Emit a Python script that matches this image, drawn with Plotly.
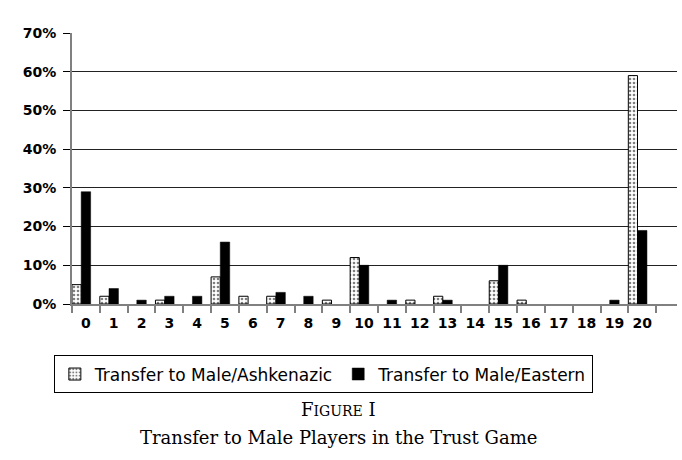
import plotly.graph_objects as go

categories = [str(i) for i in range(21)]
ashkenazic = [5, 2, 0, 1, 0, 7, 2, 2, 0, 1, 12, 0, 1, 2, 0, 6, 1, 0, 0, 0, 59]
eastern = [29, 4, 1, 2, 2, 16, 0, 3, 2, 0, 10, 1, 0, 1, 0, 10, 0, 0, 0, 1, 19]
y_ticks = [0, 10, 20, 30, 40, 50, 60, 70]
y_labels = [f"{v}%" for v in y_ticks]

def hide_zero(vals):
    return [v if v else None for v in vals]

fig = go.Figure()
fig.add_trace(go.Bar(
    x=categories, y=hide_zero(ashkenazic), name="Transfer to Male/Ashkenazic",
    width=0.33, offset=-0.5,
    marker=dict(color="white", line=dict(color="black", width=1),
                pattern=dict(shape=".", fgcolor="black", bgcolor="white", size=4, solidity=0.35)),
))
fig.add_trace(go.Bar(
    x=categories, y=hide_zero(eastern), name="Transfer to Male/Eastern",
    width=0.34, offset=-0.17,
    marker=dict(color="black", line=dict(color="black", width=0.5)),
))

fig.update_layout(
    width=682, height=460,
    margin=dict(l=72, r=5, t=33, b=156),
    plot_bgcolor="white", paper_bgcolor="white",
    barmode="group",
    showlegend=True,
    legend=dict(orientation="h", x=-0.03, y=-0.19, xanchor="left", yanchor="top",
                bordercolor="black", borderwidth=1,
                font=dict(family="DejaVu Sans", size=17, color="black"),
                itemwidth=30, tracegroupgap=0),
    font=dict(family="DejaVu Sans", color="black"),
)
fig.update_xaxes(
    type="category", range=[-0.5, 21.25],
    tickson="boundaries", ticks="outside", ticklen=7, tickcolor="#808080", tickwidth=1.5,
    showline=True, linecolor="#808080", linewidth=2,
    showgrid=False, ticklabelstandoff=5, tickangle=0,
    tickfont=dict(family="DejaVu Sans", size=14, color="black", weight="bold"),
)
fig.update_yaxes(
    range=[0, 70], tickvals=y_ticks, ticktext=y_labels,
    ticks="outside", ticklen=7, tickcolor="black",
    showline=True, linecolor="#808080", linewidth=2,
    showgrid=True, gridcolor="#222222", gridwidth=1.2,
    zeroline=False, ticklabelstandoff=4,
    tickfont=dict(family="DejaVu Sans", size=14, color="black", weight="bold"),
)

fig.add_annotation(
    text="F<span style='font-size:14px'>IGURE</span> I",
    xref="paper", yref="paper", x=0.44, y=-0.391, yanchor="middle", showarrow=False,
    font=dict(family="DejaVu Serif", size=18, color="black"),
)
fig.add_annotation(
    text="Transfer to Male Players in the Trust Game",
    xref="paper", yref="paper", x=0.44, y=-0.491, yanchor="middle", showarrow=False,
    font=dict(family="DejaVu Serif", size=18, color="black"),
)

fig.write_html("out.html")
